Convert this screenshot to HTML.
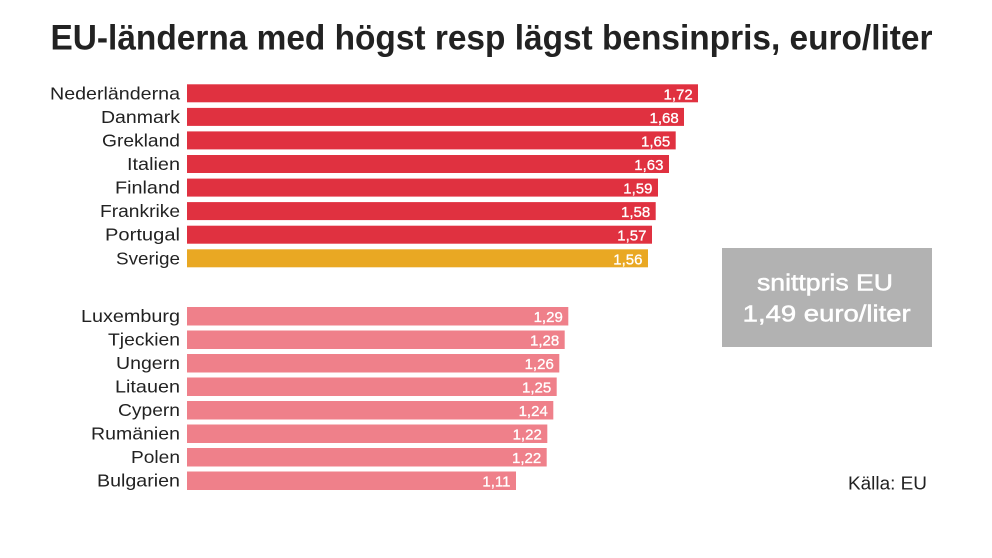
<!DOCTYPE html>
<html>
<head>
<meta charset="utf-8">
<style>
html,body{margin:0;padding:0;background:#fff;}
svg{display:block;}
text{font-family:"Liberation Sans",sans-serif;}
</style>
</head>
<body>
<svg width="992" height="558" viewBox="0 0 992 558" xmlns="http://www.w3.org/2000/svg">
<rect width="992" height="558" fill="#fff"/>
<text x="50.5" y="49.3" font-size="35.5" font-weight="bold" fill="#222" textLength="882" lengthAdjust="spacingAndGlyphs">EU-länderna med högst resp lägst bensinpris, euro/liter</text>

<g fill="#e03140">
<rect x="187" y="84.3" width="511" height="18"/>
<rect x="187" y="107.9" width="497" height="18"/>
<rect x="187" y="131.4" width="488.7" height="18"/>
<rect x="187" y="155" width="482" height="18"/>
<rect x="187" y="178.6" width="471" height="18"/>
<rect x="187" y="202.1" width="468.7" height="18"/>
<rect x="187" y="225.7" width="465" height="18"/>
</g>
<rect x="187" y="249.3" width="461" height="18" fill="#e9a823"/>

<g fill="#ef808a">
<rect x="187" y="307" width="381.3" height="18.5"/>
<rect x="187" y="330.5" width="377.7" height="18.5"/>
<rect x="187" y="354" width="372.3" height="18.5"/>
<rect x="187" y="377.5" width="369.7" height="18.5"/>
<rect x="187" y="401" width="366.3" height="18.5"/>
<rect x="187" y="424.5" width="360.3" height="18.5"/>
<rect x="187" y="448" width="359.7" height="18.5"/>
<rect x="187" y="471.5" width="329" height="18.5"/>
</g>

<g font-size="17.5" fill="#222" text-anchor="end" lengthAdjust="spacingAndGlyphs">
<text x="180" y="99.3" textLength="130" lengthAdjust="spacingAndGlyphs">Nederländerna</text>
<text x="180" y="122.9" textLength="79" lengthAdjust="spacingAndGlyphs">Danmark</text>
<text x="180" y="146.4" textLength="78" lengthAdjust="spacingAndGlyphs">Grekland</text>
<text x="180" y="170" textLength="53" lengthAdjust="spacingAndGlyphs">Italien</text>
<text x="180" y="193.6" textLength="65" lengthAdjust="spacingAndGlyphs">Finland</text>
<text x="180" y="217.1" textLength="80" lengthAdjust="spacingAndGlyphs">Frankrike</text>
<text x="180" y="240.7" textLength="75" lengthAdjust="spacingAndGlyphs">Portugal</text>
<text x="180" y="264.3" textLength="64" lengthAdjust="spacingAndGlyphs">Sverige</text>

<text x="180" y="322.2" textLength="99" lengthAdjust="spacingAndGlyphs">Luxemburg</text>
<text x="180" y="345.7" textLength="72" lengthAdjust="spacingAndGlyphs">Tjeckien</text>
<text x="180" y="369.2" textLength="64" lengthAdjust="spacingAndGlyphs">Ungern</text>
<text x="180" y="392.7" textLength="65" lengthAdjust="spacingAndGlyphs">Litauen</text>
<text x="180" y="416.2" textLength="62" lengthAdjust="spacingAndGlyphs">Cypern</text>
<text x="180" y="439.7" textLength="89" lengthAdjust="spacingAndGlyphs">Rumänien</text>
<text x="180" y="463.2" textLength="49" lengthAdjust="spacingAndGlyphs">Polen</text>
<text x="180" y="486.7" textLength="83" lengthAdjust="spacingAndGlyphs">Bulgarien</text>
</g>

<g font-size="15" fill="#fff" stroke="#fff" stroke-width="0.3" text-anchor="end">
<text x="692.7" y="99.3">1,72</text>
<text x="678.7" y="122.9">1,68</text>
<text x="670.2" y="146.4">1,65</text>
<text x="663.5" y="170">1,63</text>
<text x="652.5" y="193.6">1,59</text>
<text x="650.2" y="217.1">1,58</text>
<text x="646.5" y="240.7">1,57</text>
<text x="642.5" y="264.3">1,56</text>

<text x="562.8" y="322.2">1,29</text>
<text x="559.2" y="345.7">1,28</text>
<text x="553.8" y="369.2">1,26</text>
<text x="551.2" y="392.7">1,25</text>
<text x="547.8" y="416.2">1,24</text>
<text x="541.8" y="439.7">1,22</text>
<text x="541.2" y="463.2">1,22</text>
<text x="510.5" y="486.7">1,11</text>
</g>

<rect x="722" y="248" width="210" height="99" fill="#b2b2b2"/>
<g fill="#fff" stroke="#fff" stroke-width="0.5" text-anchor="middle" font-size="23">
<text x="825" y="290.7" textLength="136" lengthAdjust="spacingAndGlyphs">snittpris EU</text>
<text x="826.7" y="321.7" textLength="168" lengthAdjust="spacingAndGlyphs">1,49 euro/liter</text>
</g>

<text x="848" y="489.3" font-size="18.5" fill="#222" textLength="79" lengthAdjust="spacingAndGlyphs">Källa: EU</text>
</svg>
</body>
</html>
